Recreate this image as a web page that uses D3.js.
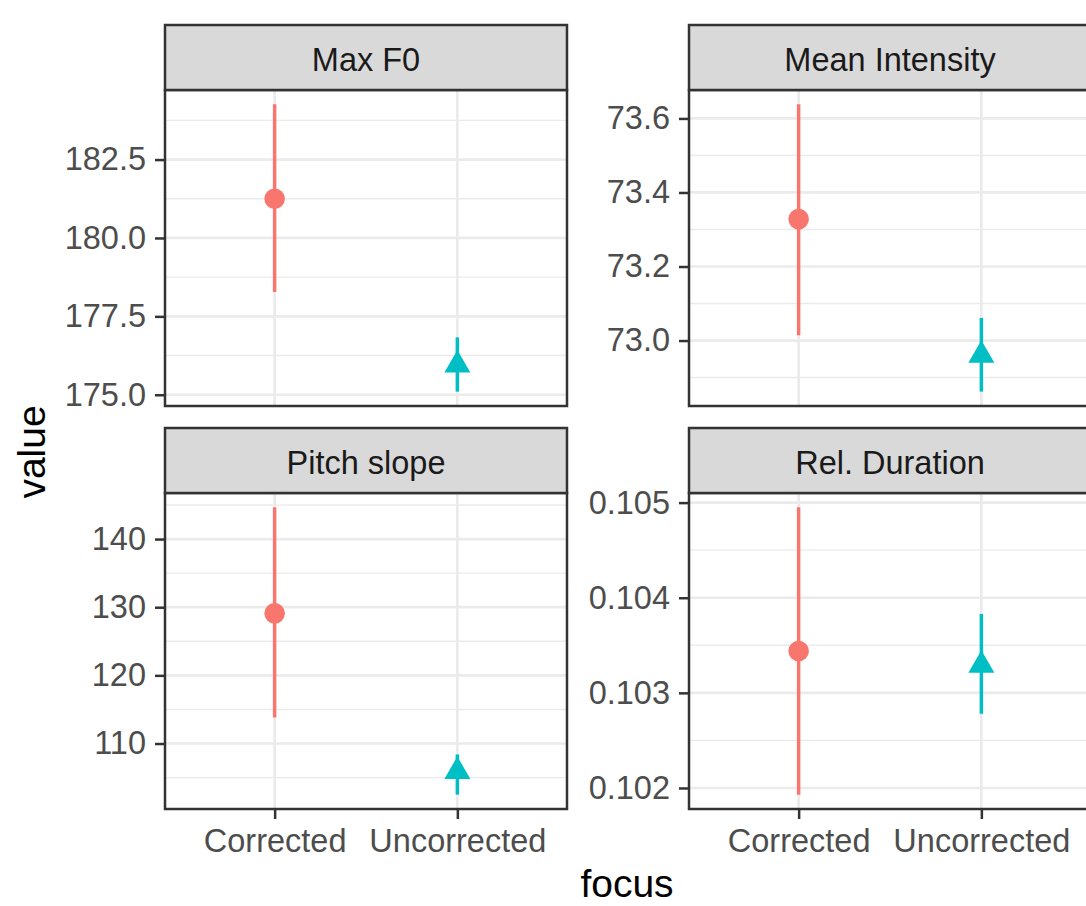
<!DOCTYPE html>
<html>
<head>
<meta charset="utf-8">
<script src="https://cdn.jsdelivr.net/npm/d3@7"></script>
<style>
  body { margin: 0; background: #fff; }
  text { font-family: "Liberation Sans", Arial, Helvetica, sans-serif; }
</style>
</head>
<body>
<div id="chart"></div>
<script>
// facet names and x categories
const facets = ["Max F0", "Mean Intensity", "Pitch slope", "Rel. Duration"];
const focus = ["Corrected", "Uncorrected"];

// point estimates and interval ends, one row per facet: [Corrected, Uncorrected]
const means = [[181.25, 175.95], [73.328, 72.96], [129.1, 105.9], [0.10344, 0.10329]];
const lower = [[178.28, 175.1], [73.014, 72.862], [113.8, 102.5], [0.10193, 0.10278]];
const upper = [[184.26, 176.83], [73.638, 73.061], [144.65, 108.4], [0.10495, 0.10383]];

// y tick labels per facet
const yTicks = [
  [175.0, 177.5, 180.0, 182.5],
  [73.0, 73.2, 73.4, 73.6],
  [110, 120, 130, 140],
  [0.102, 0.103, 0.104, 0.105]
];
const yFormats = [".1f", ".1f", ".0f", ".3f"];

const colors = { Corrected: "#F8766D", Uncorrected: "#00BFC4" };

const W = 1086, H = 906;
const colLeft = [165, 689];
const rowTop = [25, 428];
const panelW = 402, stripH = 65, panelH = 316;
const tickFont = 32.5, titleFont = 39;

const svg = d3.select("#chart").append("svg")
  .attr("width", W).attr("height", H);

facets.forEach((name, i) => {
  const col = i % 2, row = Math.floor(i / 2);
  const x0 = colLeft[col], s0 = rowTop[row], p0 = s0 + stripH;

  // ggplot style 5% expansion around the data
  const lo = d3.min(lower[i]), hi = d3.max(upper[i]);
  const pad = (hi - lo) * 0.05;
  const y = d3.scaleLinear().domain([lo - pad, hi + pad]).range([p0 + panelH, p0]);
  const x = d3.scalePoint().domain(focus).range([x0, x0 + panelW]).padding(0.6);

  const g = svg.append("g").attr("class", "facet");

  // panel background
  g.append("rect")
    .attr("x", x0).attr("y", p0).attr("width", panelW).attr("height", panelH)
    .attr("fill", "#fff");

  // minor grid
  const ticks = yTicks[i];
  const step = ticks[1] - ticks[0];
  const minors = [ticks[0] - step / 2].concat(ticks.map(t => t + step / 2))
    .filter(v => v >= y.domain()[0] && v <= y.domain()[1]);
  g.selectAll(".minor").data(minors).join("line")
    .attr("x1", x0).attr("x2", x0 + panelW)
    .attr("y1", d => y(d)).attr("y2", d => y(d))
    .attr("stroke", "#EBEBEB").attr("stroke-width", 1.4);

  // major grid
  g.selectAll(".major").data(ticks).join("line")
    .attr("x1", x0).attr("x2", x0 + panelW)
    .attr("y1", d => y(d)).attr("y2", d => y(d))
    .attr("stroke", "#EBEBEB").attr("stroke-width", 2.7);
  g.selectAll(".vmajor").data(focus).join("line")
    .attr("x1", d => x(d)).attr("x2", d => x(d))
    .attr("y1", p0).attr("y2", p0 + panelH)
    .attr("stroke", "#EBEBEB").attr("stroke-width", 2.7);

  // error bars
  focus.forEach((f, j) => {
    g.append("line")
      .attr("x1", x(f)).attr("x2", x(f))
      .attr("y1", y(lower[i][j])).attr("y2", y(upper[i][j]))
      .attr("stroke", colors[f]).attr("stroke-width", 3.5);
  });

  // points: circle for Corrected, triangle for Uncorrected
  const cx = x("Corrected"), cy = y(means[i][0]);
  g.append("circle").attr("cx", cx).attr("cy", cy).attr("r", 10.3)
    .attr("fill", colors.Corrected);
  const tx = x("Uncorrected"), ty = y(means[i][1]);
  g.append("path")
    .attr("d", `M${tx},${ty - 15}L${tx + 13},${ty + 7.5}L${tx - 13},${ty + 7.5}Z`)
    .attr("fill", colors.Uncorrected);

  // panel border
  g.append("rect")
    .attr("x", x0).attr("y", p0).attr("width", panelW).attr("height", panelH)
    .attr("fill", "none").attr("stroke", "#333333").attr("stroke-width", 2.5);

  // strip
  g.append("rect")
    .attr("x", x0).attr("y", s0).attr("width", panelW).attr("height", stripH)
    .attr("fill", "#D9D9D9").attr("stroke", "#333333").attr("stroke-width", 2.5);
  g.append("text")
    .attr("x", x0 + panelW / 2).attr("y", s0 + stripH / 2 + 2)
    .attr("dy", "0.35em").attr("text-anchor", "middle")
    .attr("font-size", tickFont).attr("fill", "#1A1A1A")
    .text(name);

  // y axis
  const yAxis = g.append("g")
    .attr("transform", `translate(${x0},0)`)
    .call(d3.axisLeft(y).tickValues(ticks).tickFormat(d3.format(yFormats[i]))
      .tickSize(10).tickPadding(9));
  yAxis.select(".domain").remove();
  yAxis.selectAll(".tick line").attr("stroke", "#333333").attr("stroke-width", 2.5);
  yAxis.selectAll(".tick text").attr("font-size", tickFont).attr("fill", "#4D4D4D")
    .attr("font-family", null);

  // x axis on bottom row only
  if (row === 1) {
    const xAxis = g.append("g")
      .attr("transform", `translate(0,${p0 + panelH})`)
      .call(d3.axisBottom(x).tickSize(10).tickPadding(10));
    xAxis.select(".domain").remove();
    xAxis.selectAll(".tick line").attr("stroke", "#333333").attr("stroke-width", 2.5);
    xAxis.selectAll(".tick text").attr("font-size", tickFont).attr("fill", "#4D4D4D")
      .attr("font-family", null);
  }
});

// axis titles
svg.append("text")
  .attr("transform", "translate(45,452) rotate(-90)")
  .attr("text-anchor", "middle")
  .attr("font-size", titleFont).attr("fill", "#000")
  .text("value");

svg.append("text")
  .attr("x", 627).attr("y", 897)
  .attr("text-anchor", "middle")
  .attr("font-size", titleFont).attr("fill", "#000")
  .text("focus");
</script>
</body>
</html>
